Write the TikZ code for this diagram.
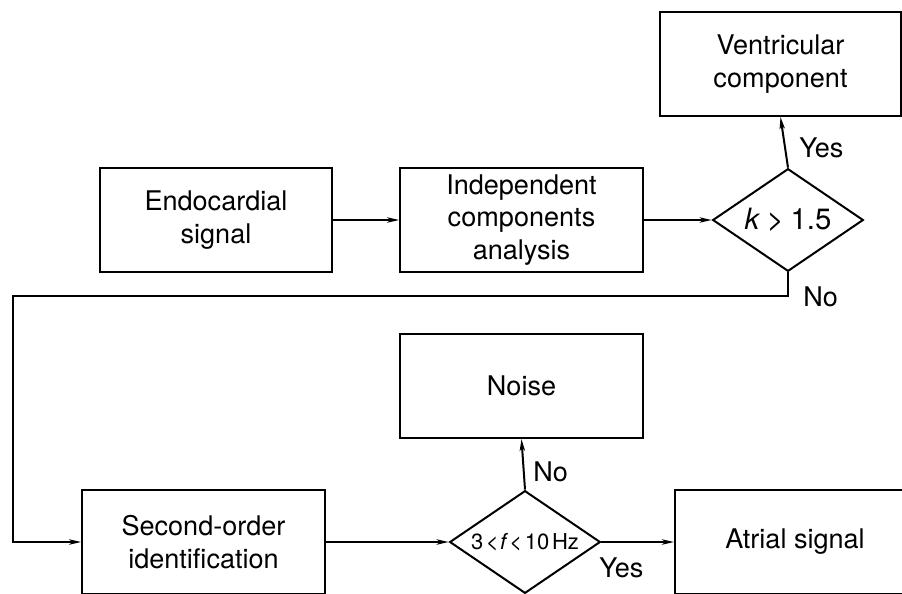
\documentclass[tikz,border=0pt]{standalone}
\usepackage{fontspec}
\setmainfont{TeX Gyre Heros}
\usetikzlibrary{shapes.geometric,arrows.meta}
\begin{document}
\begin{tikzpicture}[x=0.75pt,y=-0.75pt,
  every node/.style={font=\fontsize{20.3}{24.3}\selectfont},
  box/.style={draw,line width=1.5pt,rectangle,inner sep=0pt,align=center},
  dia/.style={draw,line width=1.5pt,diamond,inner sep=0pt,aspect=1.47},
  conn/.style={line width=1.5pt},
  arr/.style={conn,-{Stealth[length=9pt,width=4pt,inset=2.5pt]}},
  lbl/.style={inner sep=0pt}]
\useasboundingbox (0,0) rectangle (902,593);
\clip (0,0) rectangle (902,593);
\node[box,minimum width=181pt,minimum height=78pt] (vent) at (780.5,64) {Ventricular\\component};
\node[box,minimum width=174pt,minimum height=78pt] (endo) at (216,220) {Endocardial\\signal};
\node[box,minimum width=182pt,minimum height=78pt] (ica) at (521.5,220) {Independent\\components\\analysis};
\node[dia,minimum width=113pt,minimum height=77pt] (d1) at (788,220) {\fontsize{22}{26}\selectfont\textit{k}\kern5pt>\kern5pt1.5};
\node[box,minimum width=182pt,minimum height=78pt] (noise) at (521.5,386) {Noise};
\node[box,minimum width=182pt,minimum height=78pt] (second) at (203.5,542) {Second-order\\identification};
\node[dia,minimum width=113pt,minimum height=77pt] (d2) at (525,542) {\fontsize{16.5}{19}\selectfont 3\kern2pt<\kern1pt\textit{f}\kern1pt<\kern2pt10\kern2pt Hz};
\node[box,minimum width=180pt,minimum height=78pt] (atrial) at (795,542) {Atrial signal};
\coordinate (lp) at (13,296);
\draw[arr] (endo.east) -- (ica.west);
\draw[arr] (ica.east) -- (d1.west);
\draw[arr] (d1.north) -- (vent.south);
\draw[arr] (d1.south) |- (lp) |- (second.west);
\draw[arr] (second.east) -- (d2.west);
\draw[arr] (d2.north) -- (noise.south);
\draw[arr] (d2.east) -- (atrial.west);
\node[lbl,anchor=west] (yes1) at (799,148) {Yes};
\node[lbl,anchor=west] (no1) at (803,297) {No};
\node[lbl,anchor=west] (no2) at (533,472) {No};
\node[lbl,anchor=west] (yes2) at (599,568) {Yes};
\end{tikzpicture}
\end{document}
